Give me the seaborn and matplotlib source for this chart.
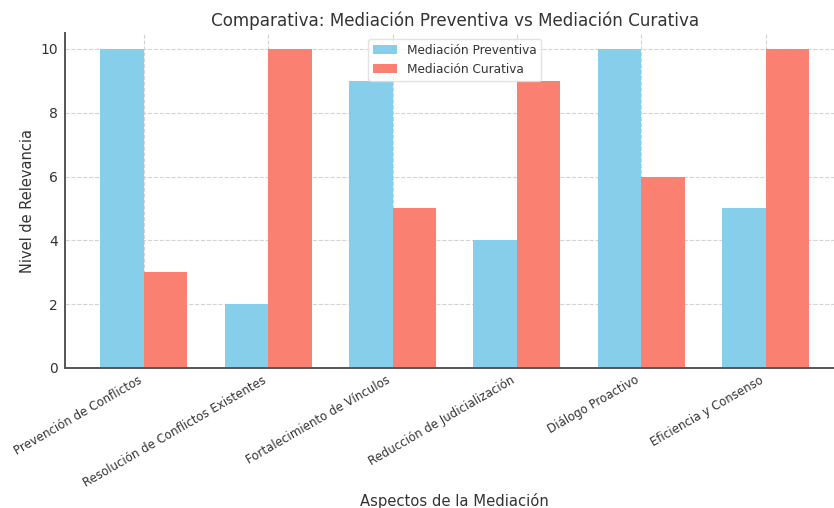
import matplotlib
matplotlib.use("Agg")
import matplotlib.pyplot as plt
import seaborn as sns
import pandas as pd

aspectos = [
    "Prevención de Conflictos",
    "Resolución de Conflictos Existentes",
    "Fortalecimiento de Vínculos",
    "Reducción de Judicialización",
    "Diálogo Proactivo",
    "Eficiencia y Consenso",
]
preventiva = [10, 2, 9, 4, 10, 5]
curativa = [3, 10, 5, 9, 6, 10]
series = ["Mediación Preventiva", "Mediación Curativa"]
colores = ["#87CEEB", "#FA8072"]

df = pd.DataFrame({
    "Aspecto": aspectos * 2,
    "Valor": preventiva + curativa,
    "Tipo": [series[0]] * len(aspectos) + [series[1]] * len(aspectos),
})

sns.set_theme(style="white")
plt.rcParams["font.family"] = ["DejaVu Sans"]
text_color = "#333333"

fig = plt.figure(figsize=(8.34, 5.08), dpi=100)
ax = fig.add_axes([0.0779, 0.2756, 0.9348, 0.6594])

sns.barplot(data=df, x="Aspecto", y="Valor", hue="Tipo", order=aspectos,
            hue_order=series, palette=colores, width=0.7, saturation=1,
            ax=ax, edgecolor="none", linewidth=0, zorder=2)

ax.set_xlim(-0.635, 5.635)
ax.set_ylim(0, 10.5)
ax.set_yticks([0, 2, 4, 6, 8, 10])

ax.set_title("Comparativa: Mediación Preventiva vs Mediación Curativa",
             fontsize=12.1, color=text_color, pad=5)
ax.set_xlabel("Aspectos de la Mediación", fontsize=10.6, color=text_color)
ax.xaxis.set_label_coords(0.5, -0.372)
ax.set_ylabel("Nivel de Relevancia", fontsize=10.5, color=text_color, labelpad=4)

ax.set_xticks(range(len(aspectos)))
ax.set_xticklabels(aspectos, rotation=30, ha="right", fontsize=8.5, color=text_color)
ax.tick_params(axis="x", direction="in", length=3, width=1, color="#444444", pad=4)
ax.tick_params(axis="y", length=0, labelsize=10, labelcolor=text_color, pad=5)

ax.grid(True, color="#c8c8c8", linestyle="--", linewidth=0.8, alpha=0.8)
ax.set_axisbelow(True)

for side in ["top", "right"]:
    ax.spines[side].set_visible(False)
for side in ["left", "bottom"]:
    ax.spines[side].set_color("#555555")
    ax.spines[side].set_linewidth(1.4)

leg = ax.legend(loc="upper center", fontsize=8.7, frameon=True,
                bbox_to_anchor=(0.5, 1.0))
leg.get_frame().set_edgecolor("#dddddd")
for t in leg.get_texts():
    t.set_color(text_color)

fig.savefig("out.png", dpi=100)
